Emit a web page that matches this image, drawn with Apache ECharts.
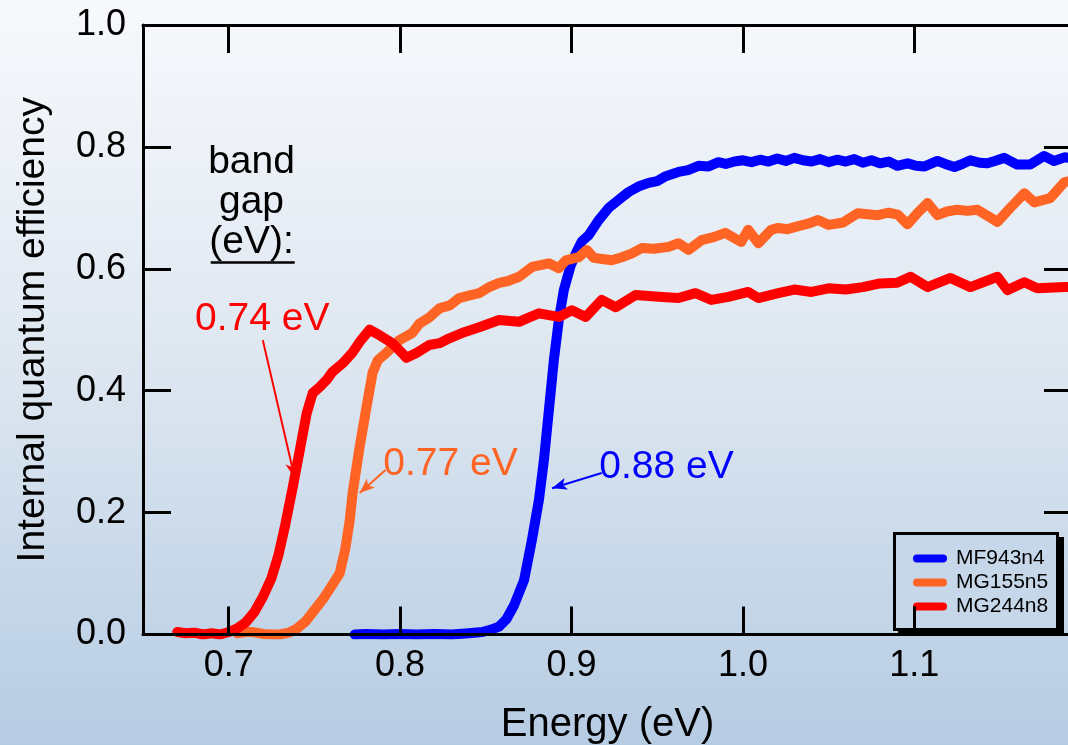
<!DOCTYPE html>
<html>
<head>
<meta charset="utf-8">
<script src="https://cdn.jsdelivr.net/npm/echarts@6/dist/echarts.min.js"></script>
<style>
html,body{margin:0;padding:0;}
#chart{width:1068px;height:745px;}
</style>
</head>
<body>
<div id="chart"></div>
<script>
const xTicks = [0.7, 0.8, 0.9, 1.0, 1.1];
const yTicks = [0.0, 0.2, 0.4, 0.6, 0.8, 1.0];
const seriesNames = ['MF943n4', 'MG155n5', 'MG244n8'];

const mf943n4 = [
 [0.7735,0.000],[0.78,0.001],[0.79,0.000],[0.80,0.001],[0.81,0.000],[0.82,0.001],[0.83,0.000],
 [0.84,0.002],[0.848,0.004],[0.853,0.008],[0.8578,0.013],[0.862,0.025],[0.8665,0.048],[0.8723,0.089],
 [0.8769,0.155],[0.881,0.221],[0.8839,0.286],[0.8868,0.368],[0.8897,0.45],[0.8926,0.516],[0.8955,0.565],
 [0.8996,0.606],[0.903,0.628],[0.906,0.645],[0.91,0.655],[0.9159,0.68],[0.9217,0.70],[0.9275,0.713],
 [0.9333,0.726],[0.939,0.735],[0.945,0.741],[0.950,0.744],[0.955,0.752],[0.9624,0.759],[0.968,0.762],
 [0.9741,0.769],[0.98,0.768],[0.9857,0.775],[0.99,0.772],[0.995,0.776],[1.0,0.778],[1.005,0.775],
 [1.01,0.779],[1.015,0.776],[1.02,0.781],[1.025,0.777],[1.03,0.782],[1.035,0.778],[1.04,0.776],
 [1.045,0.780],[1.05,0.775],[1.055,0.779],[1.06,0.776],[1.065,0.780],[1.07,0.774],[1.075,0.778],
 [1.08,0.773],[1.085,0.776],[1.09,0.769],[1.0961,0.773],[1.101,0.769],[1.106,0.768],[1.1135,0.777],
 [1.118,0.772],[1.1234,0.767],[1.128,0.772],[1.1327,0.778],[1.138,0.774],[1.1426,0.773],[1.147,0.777],
 [1.1525,0.782],[1.16,0.771],[1.1676,0.771],[1.1757,0.785],[1.1815,0.777],[1.1879,0.783],[1.192,0.781]
];

const mg155n5 = [
 [0.705,0.002],[0.71,0.004],[0.714,0.004],[0.72,0.001],[0.725,0.000],[0.7298,0.000],[0.735,0.003],
 [0.740,0.010],[0.745,0.022],[0.750,0.040],[0.755,0.058],[0.759,0.075],[0.7647,0.10],[0.768,0.14],
 [0.7705,0.185],[0.7723,0.232],[0.7764,0.308],[0.7804,0.373],[0.7839,0.429],[0.787,0.450],[0.792,0.462],
 [0.7996,0.483],[0.8072,0.495],[0.8112,0.510],[0.817,0.520],[0.8229,0.535],[0.829,0.540],[0.8345,0.552],
 [0.840,0.556],[0.8461,0.560],[0.852,0.570],[0.8578,0.577],[0.863,0.580],[0.8694,0.587],[0.877,0.603],
 [0.8868,0.609],[0.8926,0.601],[0.8967,0.614],[0.9042,0.619],[0.9089,0.631],[0.913,0.618],[0.918,0.616],
 [0.9235,0.614],[0.9293,0.619],[0.935,0.625],[0.941,0.634],[0.948,0.633],[0.9566,0.636],[0.9624,0.642],
 [0.9682,0.631],[0.9758,0.647],[0.983,0.652],[0.9897,0.659],[0.999,0.644],[1.0031,0.664],[1.009,0.642],
 [1.0165,0.664],[1.0206,0.667],[1.026,0.665],[1.0323,0.670],[1.038,0.674],[1.0438,0.680],[1.050,0.672],
 [1.0584,0.676],[1.067,0.691],[1.0787,0.688],[1.085,0.692],[1.0903,0.689],[1.0961,0.673],[1.102,0.692],
 [1.1077,0.708],[1.1135,0.688],[1.119,0.694],[1.1252,0.697],[1.131,0.695],[1.1368,0.697],[1.1485,0.677],
 [1.156,0.700],[1.1642,0.724],[1.17,0.709],[1.1793,0.716],[1.1875,0.742],[1.192,0.745]
];

const mg244n8 = [
 [0.67,0.004],[0.675,0.002],[0.68,0.003],[0.685,0.000],[0.69,0.002],[0.695,0.000],[0.700,0.004],
 [0.705,0.010],[0.710,0.020],[0.715,0.037],[0.720,0.062],[0.725,0.093],[0.729,0.13],[0.733,0.18],
 [0.7374,0.242],[0.7415,0.303],[0.7455,0.363],[0.749,0.396],[0.7531,0.406],[0.7572,0.418],[0.7606,0.431],
 [0.7665,0.445],[0.7723,0.463],[0.7764,0.48],[0.7822,0.50],[0.788,0.491],[0.7955,0.478],[0.800,0.465],
 [0.8037,0.454],[0.8095,0.462],[0.817,0.475],[0.823,0.478],[0.8287,0.486],[0.8374,0.496],[0.8461,0.504],
 [0.8578,0.516],[0.8694,0.513],[0.875,0.520],[0.881,0.527],[0.8926,0.521],[0.9002,0.532],[0.9083,0.521],
 [0.9176,0.549],[0.9258,0.537],[0.9374,0.557],[0.9508,0.554],[0.9624,0.552],[0.9723,0.56],[0.9816,0.549],
 [0.9915,0.554],[1.0031,0.562],[1.009,0.552],[1.0206,0.56],[1.03,0.566],[1.04,0.562],[1.05,0.568],
 [1.06,0.566],[1.07,0.570],[1.08,0.576],[1.09,0.577],[1.0978,0.587],[1.1077,0.570],[1.1211,0.585],
 [1.1327,0.570],[1.1485,0.587],[1.1543,0.565],[1.1642,0.578],[1.1717,0.568],[1.1879,0.570],[1.192,0.570]
];

const colors = ['#0000ff', '#ff6424', '#ff0000'];
const FONT = 'Liberation Sans, Arial, Helvetica, sans-serif';
const xMin = 0.65, xMax = 1.192;
const TICK_LEN = 28, PLOT_H = 609.5;

const chart = echarts.init(document.getElementById('chart'), null, {renderer: 'canvas'});

function axisCommon() {
  return {
    axisLine: {show: true, onZero: false, lineStyle: {color: '#000', width: 3}},
    splitLine: {show: false},
  };
}

function noteText(x, y, text, color, align) {
  return {
    coord: [x, y],
    symbol: 'circle', symbolSize: 1,
    itemStyle: {color: 'rgba(0,0,0,0)'},
    label: {show: true, position: [0, 0], formatter: text, color: color, fontSize: 39,
            fontFamily: FONT, align: align, verticalAlign: 'middle', lineHeight: 40}
  };
}

function arrow(x1, y1, x2, y2, color) {
  return [
    {coord: [x1, y1], symbol: 'none', lineStyle: {color: color, width: 2, type: 'solid'}},
    {coord: [x2, y2], symbol: 'arrow', symbolSize: [9, 15]}
  ];
}

const option = {
  animation: false,
  backgroundColor: {
    type: 'linear', x: 0, y: 0, x2: 0, y2: 1,
    colorStops: [{offset: 0, color: '#f7f9fc'}, {offset: 0.5, color: '#dde6f0'}, {offset: 1, color: '#b6cce3'}]
  },
  grid: {left: 143, top: 25, width: 929, height: PLOT_H, show: false, containLabel: false, outerBoundsMode: 'none'},
  legend: {
    data: seriesNames, orient: 'vertical', left: 908, top: 543, itemGap: 3,
    itemWidth: 34, itemHeight: 9,
    icon: 'path://M4,0 L30,0 A4,4 0 0 1 30,8 L4,8 A4,4 0 0 1 4,0 Z',
    textStyle: {fontSize: 21, fontFamily: FONT, color: '#000', padding: [0, 0, 0, 4]},
    z: 5
  },
  graphic: [
    {type: 'rect', z: -2, shape: {x: 898, y: 537, width: 166, height: 98}, style: {fill: '#000'}},
    {type: 'rect', z: -1, shape: {x: 894.5, y: 533.5, width: 163, height: 96}, style: {fill: '#c6d7e9', stroke: '#000', lineWidth: 3}}
  ],
  xAxis: [
    Object.assign(axisCommon(), {
      type: 'value', min: xMin, max: xMax, position: 'bottom',
      axisTick: {show: true, inside: true, length: TICK_LEN, lineStyle: {color: '#000', width: 3}, customValues: xTicks},
      axisLabel: {customValues: xTicks, formatter: v => v.toFixed(1), fontSize: 36, color: '#000', margin: 14, fontFamily: FONT},
      name: 'Energy (eV)', nameLocation: 'middle', nameGap: 70,
      nameTextStyle: {fontSize: 40, color: '#000', fontFamily: FONT}, z: 10
    }),
    Object.assign(axisCommon(), {
      type: 'value', min: xMin, max: xMax, position: 'top',
      axisTick: {show: true, inside: true, length: TICK_LEN, lineStyle: {color: '#000', width: 3}, customValues: xTicks},
      axisLabel: {show: false}, z: 10
    })
  ],
  yAxis: [
    Object.assign(axisCommon(), {
      type: 'value', min: 0, max: 1, position: 'left',
      axisTick: {show: true, inside: true, length: TICK_LEN, lineStyle: {color: '#000', width: 3}, customValues: yTicks},
      axisLabel: {customValues: yTicks, formatter: v => v.toFixed(1), fontSize: 36, color: '#000', margin: 17, fontFamily: FONT},
      name: 'Internal quantum efficiency', nameLocation: 'middle', nameGap: 90,
      nameTextStyle: {fontSize: 39, color: '#000', fontFamily: FONT}, z: 10
    }),
    Object.assign(axisCommon(), {
      type: 'value', min: 0, max: 1, position: 'right',
      axisTick: {show: true, inside: true, length: TICK_LEN, lineStyle: {color: '#000', width: 3}, customValues: yTicks},
      axisLabel: {show: false}, z: 10
    })
  ],
  series: [
    {
      name: seriesNames[0], type: 'line', data: mf943n4, showSymbol: false, symbol: 'none',
      lineStyle: {color: colors[0], width: 10, join: 'round', cap: 'round'}, itemStyle: {color: colors[0]}, z: 2,
      markLine: {
        silent: true, animation: false, label: {show: false},
        data: [
          arrow(0.9176, 0.265, 0.8886, 0.240, colors[0]),
          arrow(0.7915, 0.270, 0.7764, 0.232, colors[1]),
          arrow(0.7199, 0.483, 0.7385, 0.257, colors[2]),
          [
            {coord: [0.6895, 0.611], symbol: 'none', lineStyle: {color: '#000', width: 2.5, type: 'solid'}},
            {coord: [0.7385, 0.611], symbol: 'none'}
          ],
          [
            {coord: [xTicks[4], 0], symbol: 'none', lineStyle: {color: '#000', width: 3, type: 'solid', cap: 'butt'}},
            {coord: [xTicks[4], TICK_LEN / PLOT_H], symbol: 'none'}
          ]
        ]
      },
      markPoint: {
        silent: true, animation: false,
        data: [
          noteText(0.7136, 0.708, 'band\ngap\n(eV):', '#000', 'center'),
          noteText(0.7199, 0.516, '0.74 eV', colors[2], 'center'),
          noteText(0.7905, 0.278, '0.77 eV', colors[1], 'left'),
          noteText(0.9165, 0.273, '0.88 eV', colors[0], 'left')
        ]
      }
    },
    {
      name: seriesNames[1], type: 'line', data: mg155n5, showSymbol: false, symbol: 'none',
      lineStyle: {color: colors[1], width: 10, join: 'round', cap: 'round'}, itemStyle: {color: colors[1]}, z: 2
    },
    {
      name: seriesNames[2], type: 'line', data: mg244n8, showSymbol: false, symbol: 'none',
      lineStyle: {color: colors[2], width: 10, join: 'round', cap: 'round'}, itemStyle: {color: colors[2]}, z: 2
    }
  ]
};

chart.setOption(option);
</script>
</body>
</html>
